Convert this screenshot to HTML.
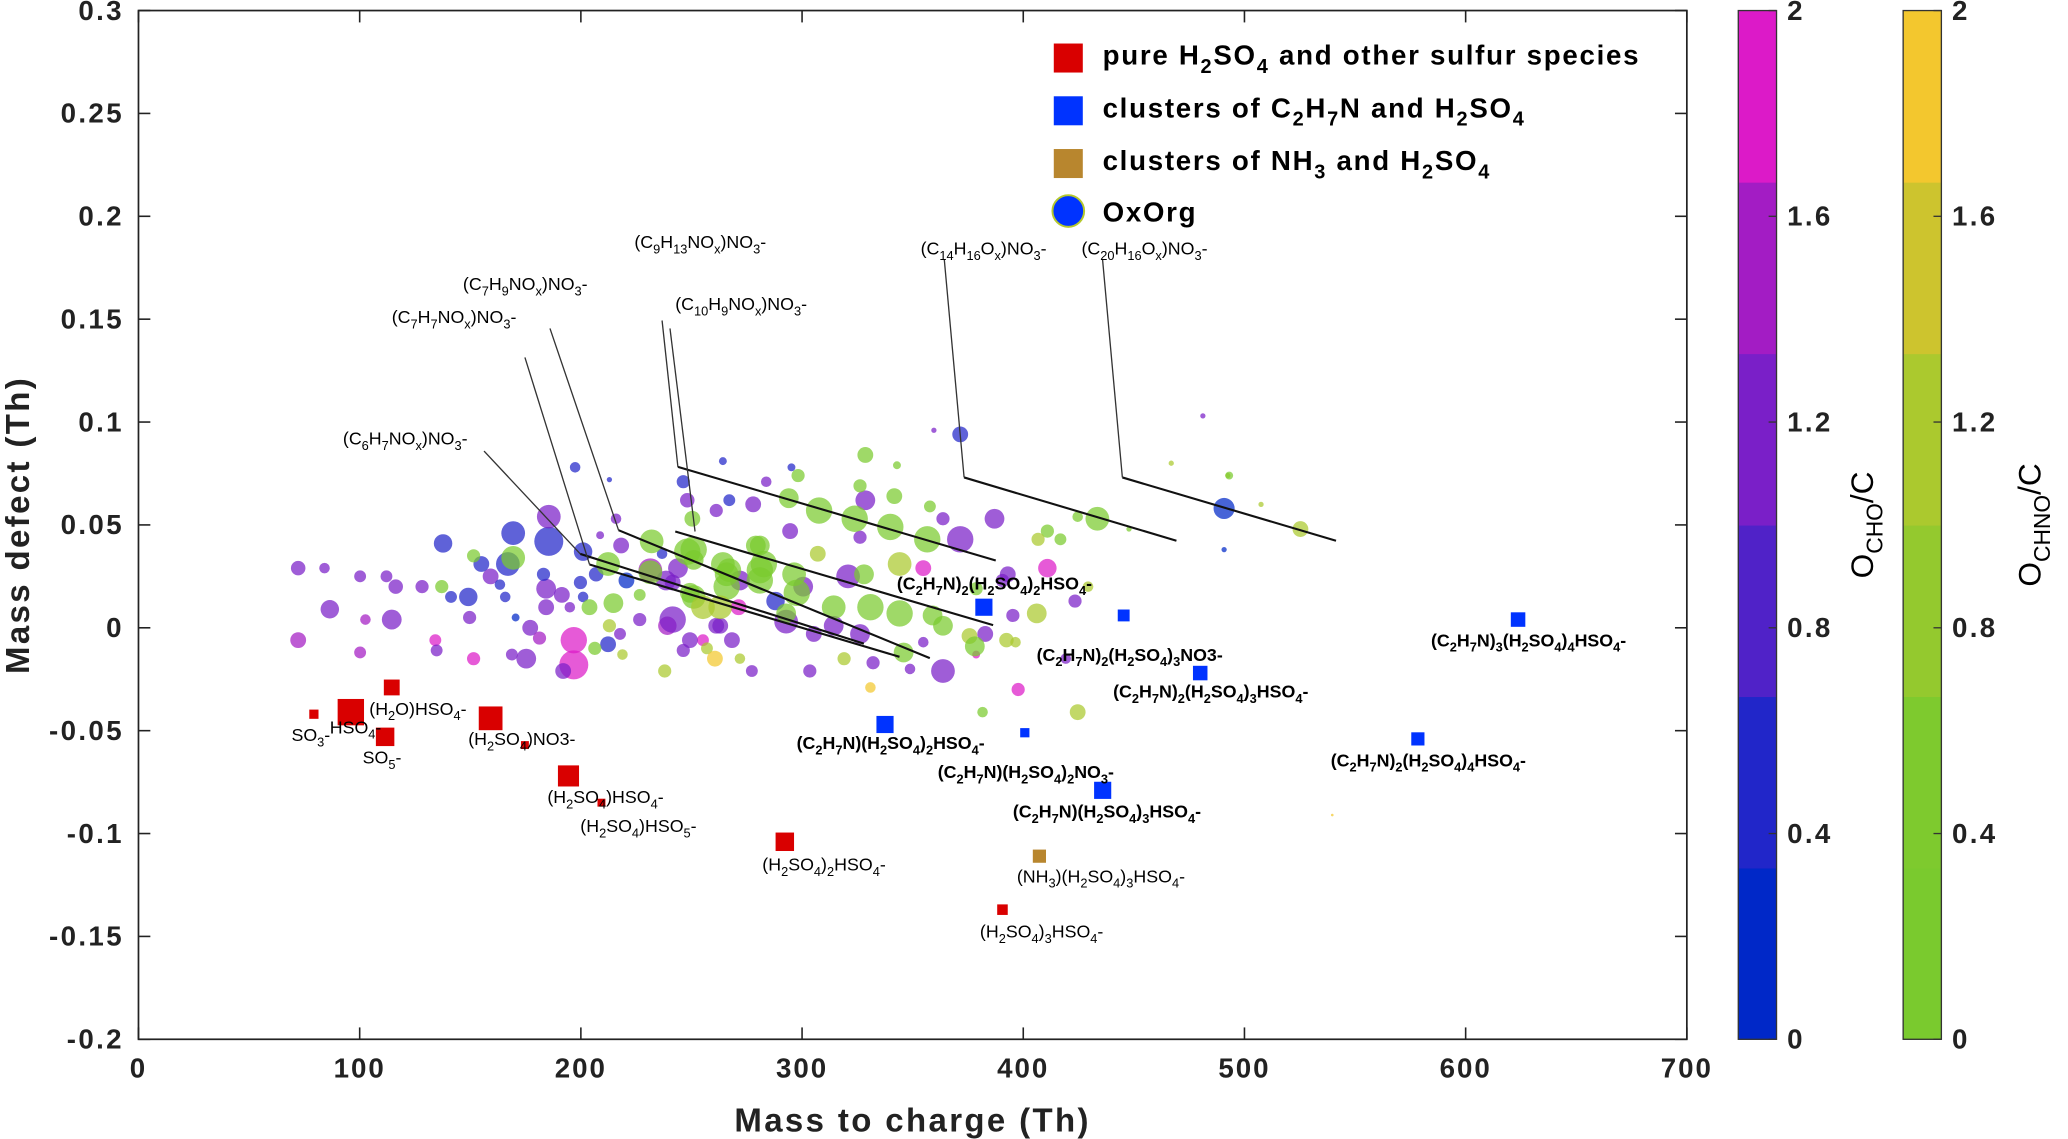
<!DOCTYPE html>
<html><head><meta charset="utf-8"><style>
html,body{margin:0;padding:0;background:#fff;}
svg{display:block;font-family:"Liberation Sans",Arial,sans-serif;}
</style></head><body>
<svg id="chart" width="2068" height="1139" viewBox="0 0 1568 863.6" preserveAspectRatio="none" xmlns="http://www.w3.org/2000/svg">
<rect x="0" y="0" width="1568" height="864" fill="#fff"/>
<g id="marks"></g>
<g id="axes"></g>
<g id="labels"></g>
<g id="legend"></g>
<g id="cbars"></g>
</svg>
<script>
// ---- data ----
const xTicks = [0,100,200,300,400,500,600,700];
const yTicks = [-0.2,-0.15,-0.1,-0.05,0,0.05,0.1,0.15,0.2,0.25,0.3];
const yTickLabels = ["-0.2","-0.15","-0.1","-0.05","0","0.05","0.1","0.15","0.2","0.25","0.3"];
const cbTicks = [0,0.4,0.8,1.2,1.6,2];
const cbTickLabels = ["0","0.4","0.8","1.2","1.6","2"];
// OxOrg bubbles: m/z, mass defect, marker radius, O/C, group (0 = CHO, 1 = CHNO)
const bMz = [72.2,84.1,86.5,72.2,100.2,102.6,114.5,116.3,112.1,100.2,128.2,137.7,137.1,141.3,149.1,151.5,155.0,167.0,169.4,159.2,163.4,165.8,149.7,134.2,134.8,151.5,177.1,181.3,175.3,168.8,184.3,184.3,191.4,183.1,169.4,185.5,185.5,201.0,206.9,196.8,196.8,192.0,201.0,199.8,195.0,203.9,212.3,218.2,232.0,236.7,231.4,231.4,248.1,251.0,264.2,267.1,280.9,280.9,241.5,249.3,214.7,226.6,212.3,206.3,212.9,239.1,246.3,255.2,257.0,260.6,263.0,268.3,271.9,277.3,237.9,246.3,248.1,261.2,267.1,277.9,250.4,283.8,212.9,197.4,328.6,264.2,295.2,298.2,342.9,294.0,326.2,328.6,341.7,357.8,307.7,323.8,339.9,363.7,371.5,387.0,356.6,294.6,326.2,433.5,410.9,406.7,416.8,393.0,410.9,406.1,395.3,392.4,382.8,375.7,378.1,363.7,363.7,359.0,344.1,345.9,330.9,326.2,314.3,314.3,320.8,328.0,344.1,300.5,297.6,296.4,292.8,292.8,305.3,280.9,282.7,279.1,271.9,265.9,265.9,263.0,251.0,255.2,251.0,243.9,238.5,241.5,249.3,261.2,303.5,371.5,359.6,481.2,466.9,492.5,493.1,490.8,490.8,507.5,525.3,447.8,424.6,419.2,424.6,397.7,381.6,330.9,332.1,539.7,218.8,170.5,429.3,423.4,378.7,396.5,354.8,319.0,348.8,390.6,378.7,226.6,217.7,271.3,307.1,220.6,208.7,215.9,288.0,354.8,369.7,307.0];
const bMd = [0.029,0.029,0.009,-0.006,-0.012,0.004,0.004,0.020,0.025,0.025,0.020,0.041,0.020,0.015,0.015,0.035,0.031,0.031,0.034,0.025,0.021,0.015,0.005,-0.006,-0.011,-0.015,0,-0.005,-0.015,-0.013,0.010,0.019,0.016,0.026,0.046,0.042,0.054,0.037,0.026,-0.006,-0.018,-0.021,0.015,0.022,0.010,0.010,0.031,0.040,0.042,0.036,0.028,0.027,0.037,0.033,0.031,0.028,0.040,0.028,0.022,0.017,0.012,0.016,-0.008,-0.010,0.001,0.001,-0.011,-0.006,-0.010,-0.015,0.001,-0.006,-0.015,-0.021,-0.021,0.071,0.062,0.057,0.062,0.060,0.053,0.071,0.072,0.078,0.084,0.081,0.078,0.074,0.079,0.063,0.069,0.062,0.064,0.059,0.057,0.053,0.049,0.053,0.043,0.053,0.043,0.047,0.044,0.053,0.047,0.043,0.043,0.026,0.029,0.007,0.006,-0.006,-0.003,-0.004,-0.009,-0.021,0.001,0.006,0.007,-0.012,0.010,-0.003,0.010,0.001,0.025,0.026,0.031,0.020,0.017,0.026,0.003,0.007,-0.003,0.023,0.031,0.040,0.023,0.020,0.026,0.010,0.015,0.010,0.038,0.029,0.023,0.004,-0.006,0.001,-0.021,0.094,0.096,0.103,0.080,0.074,0.074,0.058,0.038,0.060,0.048,0.048,0.054,-0.015,-0.041,-0.030,-0.041,-0.029,-0.017,-0.091,-0.013,0.005,0.020,0.013,-0.013,-0.007,-0.007,-0.015,-0.020,0.023,0.019,0.004,-0.003,0.010,0.036,0.023,0.045,0.053,0.013,0.029,0.013,0.052];
const bSz = [5.5,4,7,6,4.5,4,7.5,5.5,4.5,4.5,5,7,5,4.5,7,5,6,9,9,6,4,4,5,4.5,4.5,5,6,5,7.5,4.5,6,7.5,6,5,9,11,9,7,5.5,10,11,6,4,5,4,6,9,6,9,4,9,9,10,7.5,9,9,7.5,10,6,7.5,7.5,4.5,6,5,5,7,5,4.5,4.5,6,6,6,4,4.5,5,5,5.5,5,4.5,6,6,4,2,4,6,3,3,5,3,7.5,5,7.5,6,4.5,10,10,10,5,10,7.5,10,6,5,9,5,5,4.5,6,7,7.5,5,5.5,6,6,7.5,9,7.5,7.5,10,7.5,10,7.5,9,7.5,9,7.5,9,7.5,10,9,9,7.5,6,10,10,7.5,7.5,10,9,9,9,9,10,7.5,7.5,10,6,6,5,6,2,2,2,2,3,8,2,2,6,2,4,4,6,5,4,4,5,1,4,3,4,5,3,4,4,5,4,5,5,5,4.5,6,6,6,3,4,7,6,5,6];
const bOc = [1.1,1.1,1.1,1.45,1.45,1.45,1.1,1.1,1.1,1.1,1.1,0.5,0.3,0.5,0.5,0.3,0.5,0.5,0.3,1.1,0.5,0.5,1.1,1.8,1.1,1.8,1.1,1.45,1.1,1.1,1.1,1.1,1.1,0.5,0.5,0.5,1.1,0.5,0.5,1.8,1.8,1.1,0.5,0.5,1.1,0.3,0.3,1.1,0.3,0.5,1.45,0.3,0.3,0.3,0.3,0.3,0.3,0.3,1.1,0.3,0.3,0.3,0.5,0.3,1.2,1.45,1.1,1.8,1.2,1.8,1.1,1.1,1.2,1.1,1.2,0.5,1.1,1.1,0.5,1.1,0.3,1.1,0.5,0.5,0.3,0.5,0.5,0.3,0.3,0.3,0.3,1.1,0.3,0.3,0.3,0.3,0.3,1.1,1.1,1.1,0.3,1.1,1.1,0.3,0.3,1.2,0.3,1.1,1.8,1.2,1.1,1.2,1.1,1.2,0.3,1.1,0.3,0.3,0.3,0.3,0.3,1.1,0.3,1.1,1.1,0.3,1.2,1.1,0.3,0.3,1.1,0.3,1.1,0.3,0.3,0.3,1.1,0.3,0.3,1.2,0.3,1.2,0.3,1.1,1.1,1.1,1.1,1.1,1.1,0.5,1.1,1.1,1.1,1.1,0.3,0.3,0.3,1.1,1.1,0.3,0.3,1.2,1.2,1.8,0.3,1.8,1.2,1.8,1.1,0.3,1.2,1.1,1.8,1.2,1.1,1.2,1.1,1.1,0.3,1.1,1.1,1.8,1.1,0.3,1.1,1.1,0.5,1.8,1.8,0.5];
const bGrp = [0,0,0,0,0,0,0,0,0,0,0,0,1,0,0,1,0,0,1,0,0,0,0,0,0,0,0,0,0,0,0,0,0,0,0,0,0,0,0,0,0,0,0,0,0,1,1,0,1,0,0,1,1,1,1,1,1,1,0,1,1,1,0,1,1,0,0,0,1,1,0,0,1,0,1,0,0,0,0,0,1,0,0,0,1,0,0,1,1,1,1,0,1,1,1,1,1,0,0,0,1,0,0,1,1,1,1,0,0,1,0,1,0,1,1,0,1,1,1,1,1,0,1,0,0,1,1,0,1,1,0,1,0,1,1,1,0,1,1,1,1,1,1,0,0,0,0,0,0,0,0,0,1,1,1,0,0,1,1,1,1,0,1,0,1,1,0,1,1,0,1,0,0,1,0,1,0,0,1,0,0,0,1,0,0,0,0,0];
// Square markers (sulfur species / clusters)
const sqMz = [79.3,96,114.5,111.5,159.2,174.7,194.4,209.3,292.2,390.6,382.2,445.4,480,623.7,337.5,400.7,435.9,578.4,407.3];
const sqMd = [-0.042,-0.041,-0.029,-0.053,-0.044,-0.057,-0.072,-0.085,-0.104,-0.137,0.010,0.006,-0.022,0.004,-0.047,-0.051,-0.079,-0.054,-0.111];
const sqSz = [7,20,12,14,18,6,16,6,14,8,13,9,11,11,13,7,13,10,10];
const sqType = [0,0,0,0,0,0,0,0,0,0,1,1,1,1,1,1,1,1,2];

// ---- layout ----
const X0=105, X1=1279, Y0=788, Y1=8;
const xs = v => X0 + (v-0)/(700-0)*(X1-X0);
const ys = v => Y0 - (v-(-0.2))/(0.5)*(Y0-Y1);
const NS="http://www.w3.org/2000/svg";
function mk(tag, attrs, parent){const e=document.createElementNS(NS,tag);for(const k in attrs)e.setAttribute(k,attrs[k]);parent.appendChild(e);return e;}
const choCols=['#0028c8','#2126c9','#5022c8','#7a1fc8','#a31cc4','#dc1ac8'];
const chnoCols=['#7aca2e','#7eca2e','#94c92e','#abc92e','#cdc42e','#f3c72e'];
const band = oc => Math.max(0,Math.min(5,Math.floor(oc/(2/6))));
const sqCols=['#d90000','#0033ff','#b8862e'];

const marks=document.getElementById('marks');
[0,1].forEach(g=>{
  for(let i=0;i<bMz.length;i++){
    if(bGrp[i]!==g) continue;
    const c=mk('circle',{cx:xs(bMz[i]),cy:ys(bMd[i]),r:bSz[i],fill:(g?chnoCols:choCols)[band(bOc[i])],'fill-opacity':0.72},marks);
    
    
  }
});

const lab=document.getElementById('labels');
const thick=[[514,354,755,425],[731,362,892,410],[851,362,1013,410],[512,403,753,474],[469,402,705,499],[447,428,682,498],[440,420,655,488]];
thick.forEach(l=>{const e=mk('line',{x1:l[0],y1:l[1],x2:l[2],y2:l[3],stroke:'#111','stroke-width':1.6},lab);

});
const thin=[[367,342,440,420],[398,271,447,428],[417,249,469,402],[502,243,514,354],[508,249,527,403],[716,197,731,362],[836,197,851,362]];
thin.forEach(l=>{const e=mk('line',{x1:l[0],y1:l[1],x2:l[2],y2:l[3],stroke:'#333','stroke-width':1},lab);

});

for(let i=0;i<sqMz.length;i++){
  const s=sqSz[i];
  const r=mk('rect',{x:xs(sqMz[i])-s/2,y:ys(sqMd[i])-s/2,width:s,height:s,fill:sqCols[sqType[i]]},marks);
  
  
}

// text with subscripts: _X makes X subscript
function rich(parent,x,y,str,size,weight,name,anchor,ls){
  const t=mk('text',{x:x,y:y,'font-size':size,'font-weight':weight||'normal',fill:'#000','text-anchor':anchor||'start','letter-spacing':ls||0},parent);
  
  
  const segs=[];
  for(let i=0;i<str.length;i++){
    let sub=false,ch=str[i];
    if(ch==='_'){sub=true;ch=str[i+1];i++;}
    if(segs.length&&segs[segs.length-1].sub===sub) segs[segs.length-1].s+=ch;
    else segs.push({sub:sub,s:ch});
  }
  let cur=false;
  const off=size*0.3;
  segs.forEach(sg=>{
    const sp=mk('tspan',{},t);
    sp.textContent=sg.s;
    if(sg.sub!==cur){sp.setAttribute('dy',sg.sub?off:-off);cur=sg.sub;}
    if(sg.sub) sp.setAttribute('font-size',size*0.72);
  });
  return t;
}
const nLabels=[[221,562,"SO_3-"],[250,556,"HSO_4-"],[280,542,"(H_2O)HSO_4-"],[275,579,"SO_5-"],[355,565,"(H_2SO_4)NO3-"],[415,609,"(H_2SO_4)HSO_4-"],[440,631,"(H_2SO_4)HSO_5-"],[578,660,"(H_2SO_4)_2HSO_4-"],[771,669,"(NH_3)(H_2SO_4)_3HSO_4-"],[743,711,"(H_2SO_4)_3HSO_4-"],
[481,188,"(C_9H_1_3NO_x)NO_3-"],[698,193,"(C_1_4H_1_6O_x)NO_3-"],[820,193,"(C_2_0H_1_6O_x)NO_3-"],[351,220,"(C_7H_9NO_x)NO_3-"],[512,235,"(C_1_0H_9NO_x)NO_3-"],[297,245,"(C_7H_7NO_x)NO_3-"],[260,337,"(C_6H_7NO_x)NO_3-"]];
nLabels.forEach(l=>rich(lab,l[0],l[1],l[2],13.5,'normal','species-label'));
const bLabels=[[680,447,"(C_2H_7N)_2(H_2SO_4)_2HSO_4-"],[786,501,"(C_2H_7N)_2(H_2SO_4)_3NO3-"],[844,529,"(C_2H_7N)_2(H_2SO_4)_3HSO_4-"],[1085,490,"(C_2H_7N)_3(H_2SO_4)_4HSO_4-"],[604,568,"(C_2H_7N)(H_2SO_4)_2HSO_4-"],[711,590,"(C_2H_7N)(H_2SO_4)_2NO_3-"],[768,620,"(C_2H_7N)(H_2SO_4)_3HSO_4-"],[1009,581,"(C_2H_7N)_2(H_2SO_4)_4HSO_4-"]];
bLabels.forEach(l=>rich(lab,l[0],l[1],l[2],13.5,'bold','cluster-label'));

// axes
const ax=document.getElementById('axes');
const box=mk('rect',{x:X0,y:Y1,width:X1-X0,height:Y0-Y1,fill:'none',stroke:'#222','stroke-width':1.3},ax);


xTicks.forEach(v=>{
  const x=xs(v);
  mk('line',{x1:x,y1:Y0,x2:x,y2:Y0-9,stroke:'#222','stroke-width':1.2},ax);
  mk('line',{x1:x,y1:Y1,x2:x,y2:Y1+9,stroke:'#222','stroke-width':1.2},ax);
  const t=mk('text',{x:x,y:Y0+29,'font-size':21,'font-weight':'bold','text-anchor':'middle',fill:'#222','letter-spacing':1.5},ax);
  t.textContent=String(v);
  
  
});
yTicks.forEach((v,i)=>{
  const y=ys(v);
  mk('line',{x1:X0,y1:y,x2:X0+9,y2:y,stroke:'#222','stroke-width':1.2},ax);
  mk('line',{x1:X1,y1:y,x2:X1-9,y2:y,stroke:'#222','stroke-width':1.2},ax);
  const t=mk('text',{x:X0-11,y:y+7,'font-size':21,'font-weight':'bold','text-anchor':'end',fill:'#222','letter-spacing':1.8},ax);
  t.textContent=yTickLabels[i];
  
  
});
const xt=mk('text',{x:692,y:858,'font-size':25,'font-weight':'bold','text-anchor':'middle',fill:'#222','letter-spacing':1.8},ax);
xt.textContent='Mass to charge (Th)';


const yt=mk('text',{x:0,y:0,'font-size':25,'font-weight':'bold','text-anchor':'middle',fill:'#222','letter-spacing':1.8,transform:'translate(22,398) rotate(-90)'},ax);
yt.textContent='Mass defect (Th)';



// legend
const lg=document.getElementById('legend');
const legItems=[[sqCols[0],"pure H_2SO_4 and other sulfur species",49],[sqCols[1],"clusters of C_2H_7N and H_2SO_4",89],[sqCols[2],"clusters of NH_3 and H_2SO_4",129]];
legItems.forEach((it,i)=>{
  const r=mk('rect',{x:799,y:it[2]-16,width:22,height:22,fill:it[0]},lg);
  
  
  rich(lg,836,it[2],it[1],21,'bold','legend-entry','start',1.3);
});
const lc=mk('circle',{cx:810,cy:160,r:12,fill:'#0033ff',stroke:'#b5c82e','stroke-width':1.5},lg);


rich(lg,836,168,"OxOrg",21,'bold','legend-entry','start',1.3);

// colorbars
const cb=document.getElementById('cbars');
function colorbar(x,cols,title,tx){
  const w=29,h=Y0-Y1;
  cols.forEach((c,i)=>{const r=mk('rect',{x:x,y:Y0-(i+1)*h/6,width:w,height:h/6+0.5,fill:c},cb);
    
    });
  mk('rect',{x:x,y:Y1,width:w,height:h,fill:'none',stroke:'#333','stroke-width':1},cb);
  cbTicks.forEach((v,i)=>{
    const y=Y0-v/2*h;
    mk('line',{x1:x+w-6,y1:y,x2:x+w,y2:y,stroke:'#333','stroke-width':1},cb);
    const t=mk('text',{x:x+37,y:y+7,'font-size':21,'font-weight':'bold',fill:'#222','letter-spacing':1.8},cb);
    t.textContent=cbTickLabels[i];
    
    
  });
  const g=mk('g',{transform:'translate('+tx+',398) rotate(-90)'},cb);
  rich(g,0,0,title,24,'normal','colorbar-title','middle');
}
colorbar(1318,choCols,"O_C_H_O/C",1420);
colorbar(1443,chnoCols,"O_C_H_N_O/C",1547);
</script>
</body></html>
